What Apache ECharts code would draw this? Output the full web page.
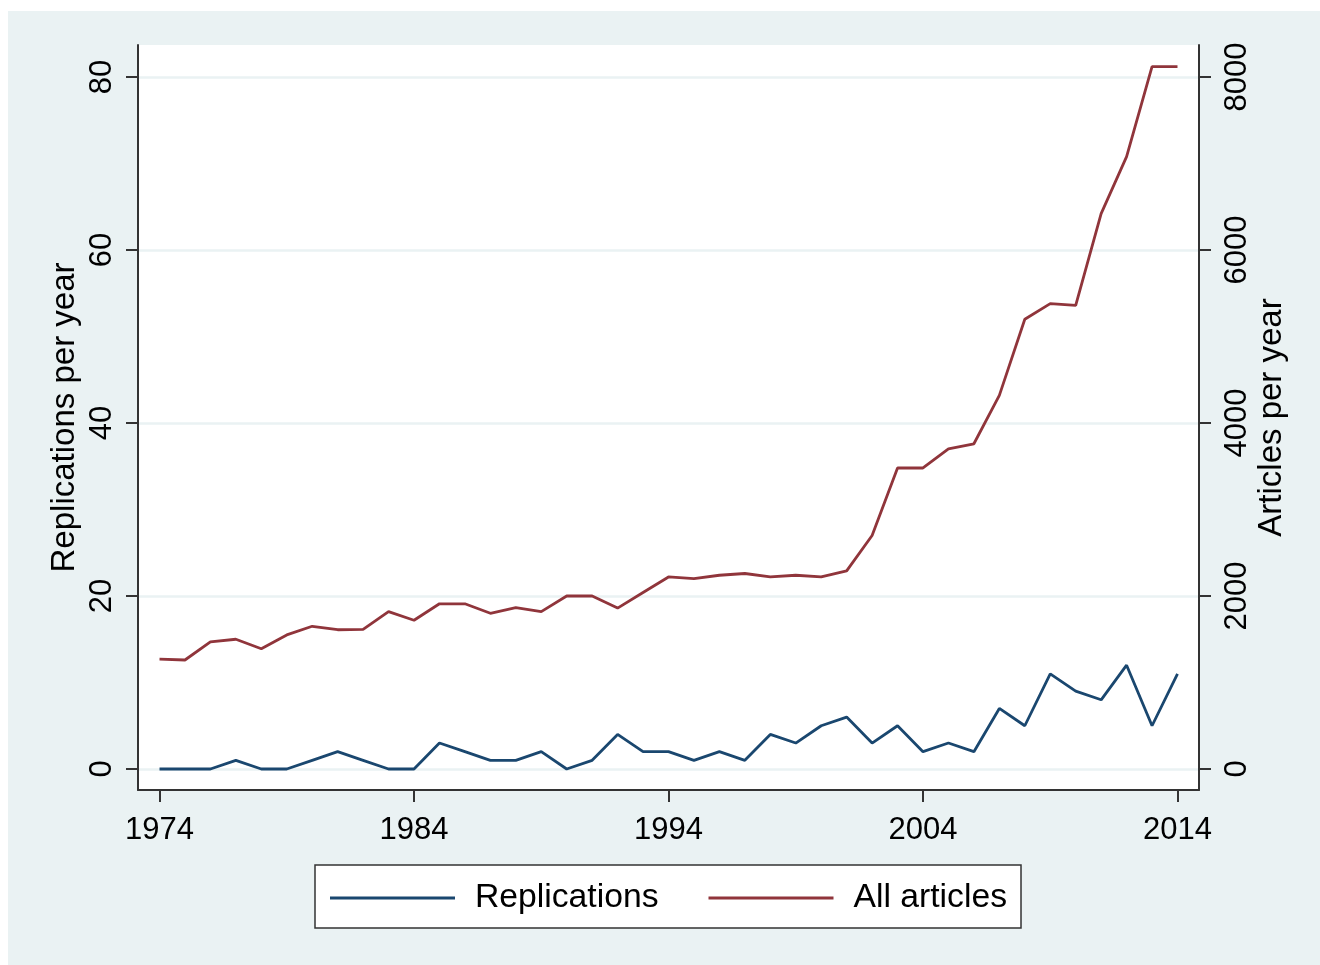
<!DOCTYPE html>
<html><head><meta charset="utf-8">
<script src="https://cdn.jsdelivr.net/npm/echarts@6/dist/echarts.min.js"></script>
<style>
html,body{margin:0;padding:0;background:#fff;}
#wrap{position:relative;width:1320px;height:965px;overflow:hidden;background:#fff;}
#bg{position:absolute;left:8px;top:11px;width:1312px;height:954px;background:#eaf2f3;}
#chart{position:absolute;left:0;top:0;width:1320px;height:965px;}
</style></head><body>
<div id="wrap"><div id="bg"></div><div id="chart"></div></div>
<script>
const years = [1974,1975,1976,1977,1978,1979,1980,1981,1982,1983,1984,1985,1986,1987,1988,1989,1990,1991,1992,1993,1994,1995,1996,1997,1998,1999,2000,2001,2002,2003,2004,2005,2006,2007,2008,2009,2010,2011,2012,2013,2014];
const replications = [0,0,0,1,0,0,1,2,1,0,0,3,2,1,1,2,0,1,4,2,2,1,2,1,4,3,5,6,3,5,2,3,2,7,5,11,9,8,12,5,11];
const articles = [1270,1260,1470,1500,1390,1550,1650,1610,1615,1820,1720,1910,1910,1800,1865,1820,2000,2000,1860,2040,2220,2200,2240,2260,2220,2240,2220,2290,2700,3480,3480,3700,3760,4320,5200,5380,5360,6420,7080,8120,8120];
const xTicks = [1974,1984,1994,2004,2014];
const leftTicks = [0,20,40,60,80];
const rightTicks = [0,2000,4000,6000,8000];

const FONT = 'Liberation Sans, Arial, sans-serif';
const AXIS_COLOR = '#333';
const chart = echarts.init(document.getElementById('chart'), null, {renderer:'canvas'});
const fmt = v => String(v);
chart.setOption({
  backgroundColor: 'transparent',
  animation: false,
  grid: {left:138, right:121, top:45, bottom:175, containLabel:false, outerBoundsMode:'none',
         show:true, backgroundColor:'#ffffff', borderWidth:0},
  legend: {
    left:315, top:865, orient:'horizontal',
    padding:[16,14,13,15],
    backgroundColor:'#ffffff', borderColor:'#333', borderWidth:1.5,
    icon:'rect', itemWidth:125, itemHeight:3, itemGap:50,
    textStyle:{fontFamily:FONT, fontSize:33.7, color:'#000', padding:[0,0,0,15]},
    data:['Replications','All articles']
  },
  xAxis: {
    type:'value', min:1973.155, max:2014.845,
    axisLine:{show:true, onZero:false, lineStyle:{color:AXIS_COLOR, width:2}},
    axisTick:{show:true, length:12, lineStyle:{color:AXIS_COLOR, width:2}, customValues:xTicks},
    axisLabel:{show:true, margin:25, fontFamily:FONT, fontSize:31, color:'#000', customValues:xTicks, formatter:fmt},
    splitLine:{show:false}
  },
  yAxis: [
    {
      type:'value', position:'left', min:-2.428, max:83.70,
      name:'Replications per year', nameLocation:'middle', nameRotate:90, nameGap:57, nameMoveOverlap:false,
      nameTextStyle:{fontFamily:FONT, fontSize:33, color:'#000'},
      axisLine:{show:true, onZero:false, lineStyle:{color:AXIS_COLOR, width:2}},
      axisTick:{show:true, length:12, lineStyle:{color:AXIS_COLOR, width:2}, customValues:leftTicks},
      axisLabel:{show:true, rotate:90, margin:20, fontFamily:FONT, fontSize:31, color:'#000', customValues:leftTicks, formatter:fmt},
      splitLine:{show:true, lineStyle:{color:'#eaf2f3', width:2.5}}
    },
    {
      type:'value', position:'right', min:-242.8, max:8370,
      name:'Articles per year', nameLocation:'middle', nameRotate:90, nameGap:56, nameMoveOverlap:false,
      nameTextStyle:{fontFamily:FONT, fontSize:33, color:'#000'},
      axisLine:{show:true, onZero:false, lineStyle:{color:AXIS_COLOR, width:2}},
      axisTick:{show:true, length:12, lineStyle:{color:AXIS_COLOR, width:2}, customValues:rightTicks},
      axisLabel:{show:true, rotate:90, margin:23, fontFamily:FONT, fontSize:31, color:'#000', customValues:rightTicks, formatter:fmt},
      splitLine:{show:false}
    }
  ],
  series: [
    {
      name:'Replications', type:'line', yAxisIndex:0, showSymbol:false, symbol:'none',
      lineStyle:{color:'#1a476f', width:2.8}, itemStyle:{color:'#1a476f'},
      data: years.map((y,i)=>[y, replications[i]]), z:3
    },
    {
      name:'All articles', type:'line', yAxisIndex:1, showSymbol:false, symbol:'none',
      lineStyle:{color:'#90353b', width:2.8}, itemStyle:{color:'#90353b'},
      data: years.map((y,i)=>[y, articles[i]]), z:3
    }
  ]
});
</script>
</body></html>
